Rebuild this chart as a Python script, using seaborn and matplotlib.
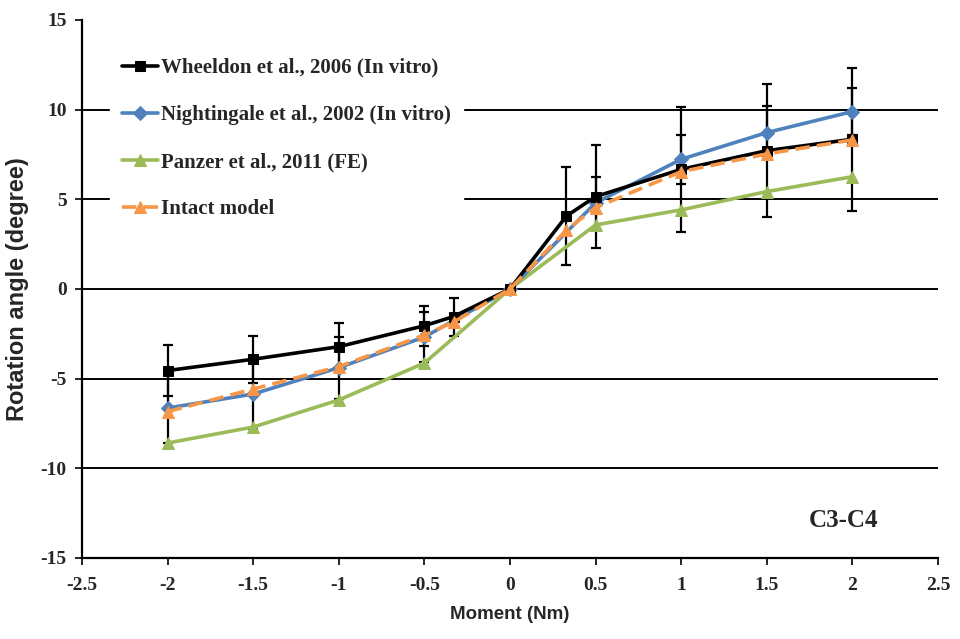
import numpy as np
import pandas as pd
import seaborn as sns
import matplotlib.pyplot as plt

# values
x_wheel = [-2, -1.5, -1, -0.5, -0.33, 0, 0.33, 0.5, 1, 1.5, 2]
y_wheel = [-4.55, -3.92, -3.22, -2.05, -1.54, 0, 4.07, 5.15, 6.67, 7.71, 8.35]
sd_wheel = [1.43, 1.3, 1.3, 1.12, 1.06, 0, 2.75, 2.85, 3.5, 3.72, 3.98]

x_night = [-2, -1.5, -1, -0.5, 0, 0.5, 1, 1.5, 2]
y_night = [-6.64, -5.86, -4.39, -2.68, 0, 4.8, 7.23, 8.72, 9.89]
sd_night = [1.95, 1.95, 1.73, 1.42, 0, 1.46, 1.38, 1.48, 1.33]

x_panzer = [-2, -1.5, -1, -0.5, 0, 0.5, 1, 1.5, 2]
y_panzer = [-8.59, -7.7, -6.19, -4.13, 0, 3.57, 4.41, 5.43, 6.26]

x_intact = [-2, -1.5, -1, -0.5, -0.33, 0, 0.33, 0.5, 1, 1.5, 2]
y_intact = [-6.84, -5.58, -4.33, -2.57, -1.85, 0, 3.29, 4.54, 6.54, 7.53, 8.31]

labels = ['Wheeldon et al., 2006 (In vitro)', 'Nightingale et al., 2002 (In vitro)',
          'Panzer et al., 2011 (FE)', 'Intact model']
colors = ['#000000', '#4F81BD', '#9BBB59', '#F79646']
markers = ['s', 'D', '^', '^']
msizes = [7, 7, 9, 8]

sns.set_style("white")
plt.rcParams['font.family'] = ['Liberation Serif', 'DejaVu Serif']
plt.rcParams['axes.unicode_minus'] = False

fig = plt.figure(figsize=(9.6, 6.39), dpi=100)
ax = fig.add_axes([0.0854, 0.1268, 0.8917, 0.842])

# error bars (black) behind the lines
ax.errorbar(x_wheel, y_wheel, yerr=sd_wheel, fmt='none', ecolor='black',
            elinewidth=1.6, capsize=3.5, capthick=1.6, zorder=2)
ax.errorbar(x_night, y_night, yerr=sd_night, fmt='none', ecolor='black',
            elinewidth=1.6, capsize=3.5, capthick=1.6, zorder=2)

series = [(x_wheel, y_wheel), (x_night, y_night), (x_panzer, y_panzer), (x_intact, y_intact)]
for i, (xs, ys) in enumerate(series):
    df = pd.DataFrame({'x': xs, 'y': ys})
    sns.lineplot(data=df, x='x', y='y', ax=ax, color=colors[i], marker=markers[i],
                 markersize=msizes[i], markeredgecolor=colors[i], linewidth=2.6,
                 label=labels[i], sort=False, zorder=3 + (3 - i) * 0.1 if i < 3 else 3.5,
                 linestyle='--' if i == 3 else '-')
ax.lines[-1].set_dashes([4, 2])

for yv in [-10, -5, 0, 5, 10]:
    ax.axhline(yv, color='black', linewidth=1.4, zorder=1)

ax.set_xlim(-2.5, 2.5)
ax.set_ylim(-15, 15)
ax.set_xticks(np.arange(-2.5, 2.51, 0.5))
ax.set_xticklabels(['-2.5', '-2', '-1.5', '-1', '-0.5', '0', '0.5', '1', '1.5', '2', '2.5'])
ax.set_yticks(np.arange(-15, 16, 5))
ax.tick_params(axis='both', direction='out', length=5, width=1.4, labelsize=14,
               left=True, bottom=True)
ax.tick_params(axis='x', pad=9)
ax.tick_params(axis='y', pad=6)
for lab in ax.get_xticklabels() + ax.get_yticklabels():
    lab.set_fontweight('bold')

for s in ['top', 'right']:
    ax.spines[s].set_visible(False)
for s in ['left', 'bottom']:
    ax.spines[s].set_color('black')
    ax.spines[s].set_linewidth(1.6)

ax.set_xlabel('Moment (Nm)', fontsize=13.5, fontweight='bold',
              family=['Liberation Sans Narrow', 'Liberation Sans'], labelpad=8)
ax.set_ylabel('Rotation angle (degree)', fontsize=17, fontweight='bold',
              family=['Liberation Sans Narrow', 'Liberation Sans'], labelpad=8)

ax.text(1.95, -12.9, 'C3-C4', fontsize=18, fontweight='bold', ha='center', va='center')

leg = ax.legend(loc='upper left', bbox_to_anchor=(0.02, 0.972), frameon=True,
                framealpha=1, edgecolor='white', fontsize=15, labelspacing=1.3,
                handlelength=1.75, handletextpad=0.12, borderpad=0.6)
for t in leg.get_texts():
    t.set_fontweight('bold')
leg.set_zorder(5)

fig.savefig('out.png', dpi=100)
